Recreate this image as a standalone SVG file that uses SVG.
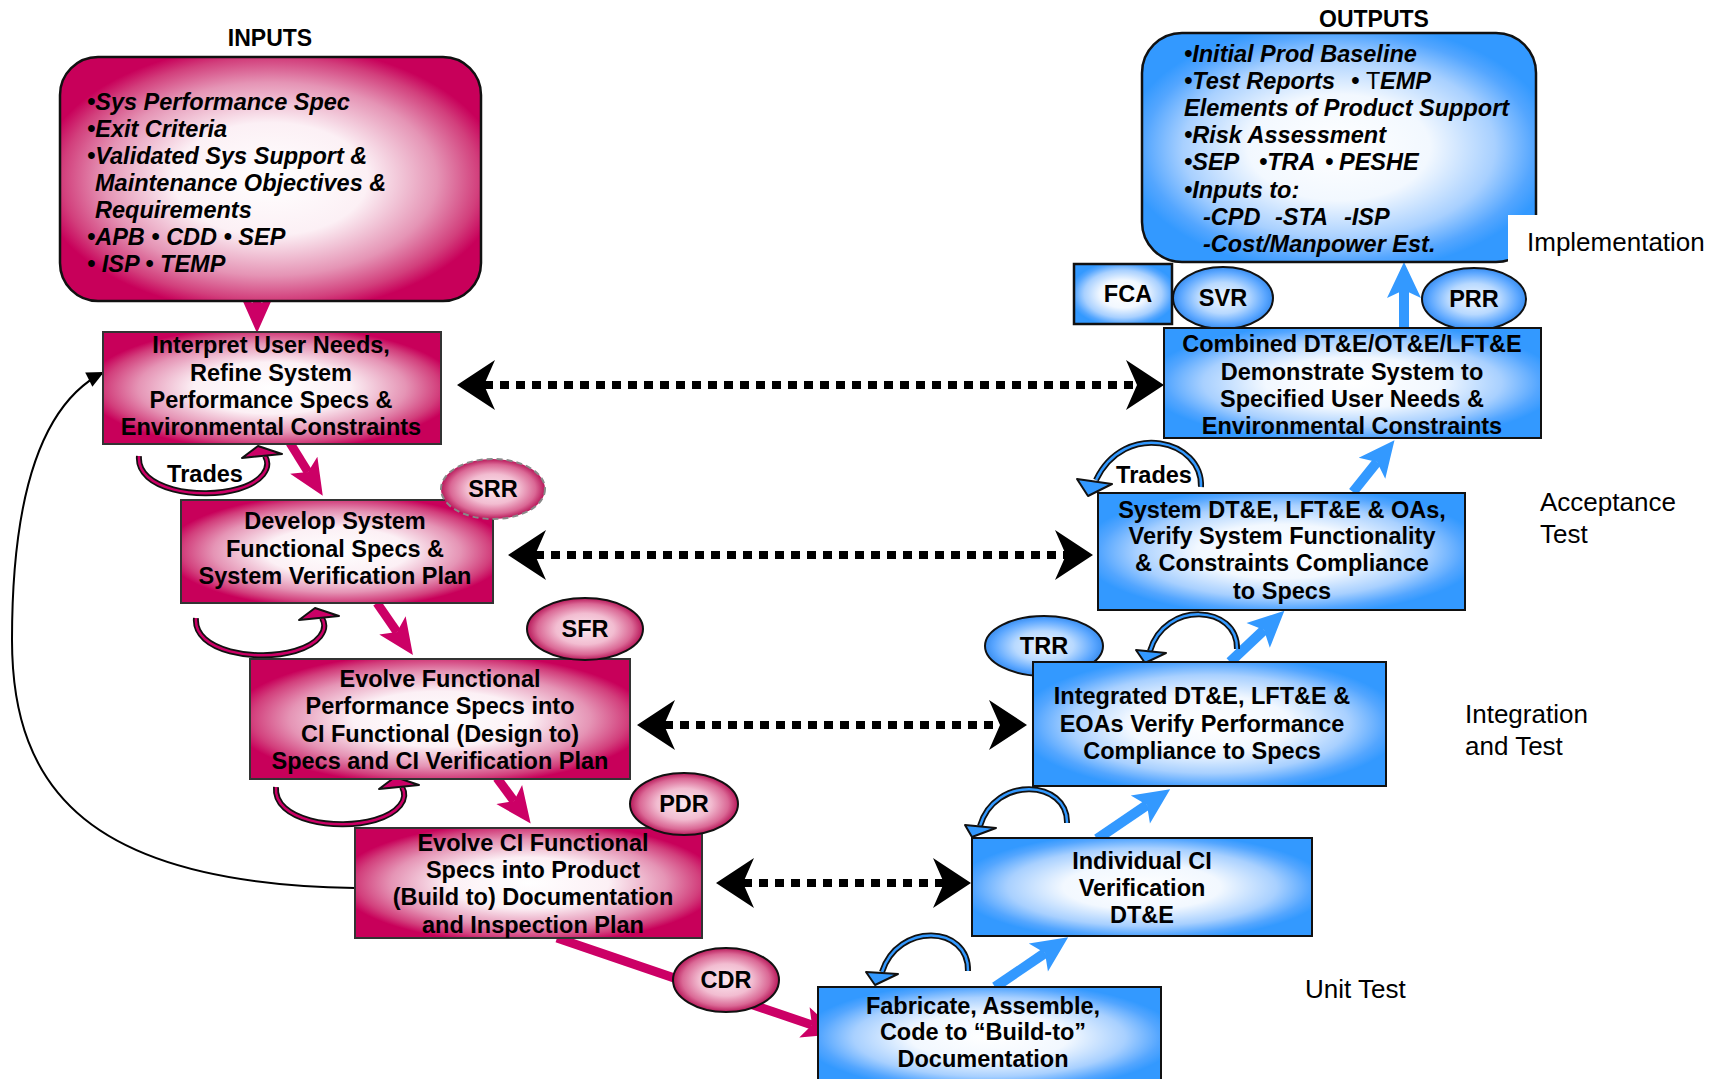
<svg xmlns="http://www.w3.org/2000/svg" width="1714" height="1079" viewBox="0 0 1714 1079">
<defs>
<style>
.nt{font-family:"Liberation Sans",Arial,sans-serif;font-weight:bold;font-size:23.5px;text-anchor:middle;fill:#000}
.it{font-family:"Liberation Sans",Arial,sans-serif;font-weight:bold;font-style:italic;font-size:23.5px;fill:#000}
.lb{font-family:"Liberation Sans",Arial,sans-serif;font-size:26px;fill:#000}
.hd{font-family:"Liberation Sans",Arial,sans-serif;font-weight:bold;font-size:23px;text-anchor:middle;fill:#000}
.pbox{fill:url(#gp);stroke:#333;stroke-width:2}
.bbox{fill:url(#gb);stroke:#111;stroke-width:2}
.pell{fill:url(#gpe);stroke:#111;stroke-width:2}
.bell{fill:url(#gbe);stroke:#111;stroke-width:2}
.dot{fill:none;stroke:#000;stroke-width:8;stroke-dasharray:9 7;marker-start:url(#hd);marker-end:url(#hd)}
.pa{fill:none;stroke:#CC0066;stroke-width:9;marker-end:url(#hp)}
.ba{fill:none;stroke:#3399FF;stroke-width:10;marker-end:url(#hb)}
.co{fill:none;stroke:#111;stroke-width:6}
.cp{fill:none;stroke:#CC0066;stroke-width:2.5}
.cb{fill:none;stroke:#3399FF;stroke-width:2.5}
</style>
<radialGradient id="gp" cx="0.5" cy="0.5" r="0.55">
<stop offset="0" stop-color="#FFFFFF"/><stop offset="0.42" stop-color="#FCF0F5"/><stop offset="0.72" stop-color="#E594B5"/><stop offset="0.9" stop-color="#D23F7C"/><stop offset="1" stop-color="#C8005A"/>
</radialGradient>
<radialGradient id="gb" cx="0.5" cy="0.5" r="0.55">
<stop offset="0" stop-color="#FFFFFF"/><stop offset="0.42" stop-color="#F2F8FF"/><stop offset="0.72" stop-color="#A8D0FF"/><stop offset="0.9" stop-color="#54A6FF"/><stop offset="1" stop-color="#3399FF"/>
</radialGradient>
<radialGradient id="gpe" cx="0.5" cy="0.5" r="0.5">
<stop offset="0" stop-color="#FBE8EF"/><stop offset="0.5" stop-color="#F2BDD1"/><stop offset="0.82" stop-color="#DA6895"/><stop offset="1" stop-color="#B8185A"/>
</radialGradient>
<radialGradient id="gbe" cx="0.5" cy="0.5" r="0.5">
<stop offset="0" stop-color="#F2F8FF"/><stop offset="0.5" stop-color="#B8D9FF"/><stop offset="0.85" stop-color="#5AA6FF"/><stop offset="1" stop-color="#3A8EF0"/>
</radialGradient>
<marker id="hd" viewBox="-12 -26 40 52" refX="0" refY="0" markerWidth="40" markerHeight="52" markerUnits="userSpaceOnUse" orient="auto-start-reverse">
<path d="M27,0 L-11,-25 L0,0 L-11,25 Z" fill="#000"/>
</marker>
<marker id="hp" viewBox="-10 -18 40 36" refX="0" refY="0" markerWidth="40" markerHeight="36" markerUnits="userSpaceOnUse" orient="auto">
<path d="M28,0 L-8,-16 L0,0 L-8,16 Z" fill="#CC0066"/>
</marker>
<marker id="hb" viewBox="-10 -18 40 36" refX="0" refY="0" markerWidth="40" markerHeight="36" markerUnits="userSpaceOnUse" orient="auto">
<path d="M28,0 L-8,-17 L0,0 L-8,17 Z" fill="#3399FF"/>
</marker>
<marker id="hk" viewBox="-18 -9 20 18" refX="0" refY="0" markerWidth="20" markerHeight="18" markerUnits="userSpaceOnUse" orient="auto">
<path d="M0,0 L-17,-8 L-17,8 Z" fill="#000"/>
</marker>
</defs>
<rect width="1714" height="1079" fill="#fff"/>

<g id="connectors">
<line class="pa" x1="257" y1="277" x2="257" y2="305"/>
<line class="pa" x1="290" y1="443" x2="308" y2="472"/>
<line class="pa" x1="377" y1="603" x2="397" y2="632"/>
<line class="pa" x1="497" y1="778" x2="514" y2="801"/>
<line class="pa" x1="557" y1="938" x2="812" y2="1025"/>
<line class="ba" x1="995" y1="987" x2="1045" y2="953"/>
<line class="ba" x1="1097" y1="839" x2="1147" y2="805"/>
<line class="ba" x1="1230" y1="662" x2="1264" y2="630"/>
<line class="ba" x1="1353" y1="492" x2="1377" y2="462"/>
<line class="ba" x1="1404" y1="328" x2="1404" y2="290"/>
<line class="dot" x1="484" y1="385" x2="1137" y2="385"/>
<line class="dot" x1="535" y1="555" x2="1066" y2="555"/>
<line class="dot" x1="664" y1="725" x2="1000" y2="725"/>
<line class="dot" x1="743" y1="883" x2="944" y2="883"/>
<path d="M355,888 C90,884 12,790 12,640 C12,480 48,400 104,372" fill="none" stroke="#000" stroke-width="2" marker-end="url(#hk)"/>
<g id="tr1">
<path class="co" d="M139,456 C136,490 200,500 238,489 C262,482 272,468 265,456"/>
<path class="cp" d="M139,456 C136,490 200,500 238,489 C262,482 272,468 265,456"/>
<polygon points="242,458 258,446 282,454" fill="#CC0066" stroke="#111" stroke-width="2" stroke-linejoin="round"/>
</g>
<g id="tr2" transform="translate(57,162)">
<path class="co" d="M139,456 C136,490 200,500 238,489 C262,482 272,468 265,456"/>
<path class="cp" d="M139,456 C136,490 200,500 238,489 C262,482 272,468 265,456"/>
<polygon points="242,458 258,446 282,454" fill="#CC0066" stroke="#111" stroke-width="2" stroke-linejoin="round"/>
</g>
<g id="tr3" transform="translate(137,331)">
<path class="co" d="M139,456 C136,490 200,500 238,489 C262,482 272,468 265,456"/>
<path class="cp" d="M139,456 C136,490 200,500 238,489 C262,482 272,468 265,456"/>
<polygon points="242,458 258,446 282,454" fill="#CC0066" stroke="#111" stroke-width="2" stroke-linejoin="round"/>
</g>
<path class="co" d="M1201,487 C1203,440 1125,420 1096,480"/>
<path class="cb" d="M1201,487 C1203,440 1125,420 1096,480"/>
<polygon points="1088,496 1077,479 1112,484" fill="#3399FF" stroke="#111" stroke-width="2" stroke-linejoin="round"/>
<path class="co" d="M1237,649 C1238,605 1165,600 1150,651"/>
<path class="cb" d="M1237,649 C1238,605 1165,600 1150,651"/>
<polygon points="1145,663 1136,650 1166,653" fill="#3399FF" stroke="#111" stroke-width="2" stroke-linejoin="round"/>
<path class="co" d="M1067,823 C1068,780 995,775 980,826"/>
<path class="cb" d="M1067,823 C1068,780 995,775 980,826"/>
<polygon points="972,837 965,825 996,828" fill="#3399FF" stroke="#111" stroke-width="2" stroke-linejoin="round"/>
<path class="co" d="M968,971 C969,925 898,922 882,972"/>
<path class="cb" d="M968,971 C969,925 898,922 882,972"/>
<polygon points="875,985 866,972 898,974" fill="#3399FF" stroke="#111" stroke-width="2" stroke-linejoin="round"/>
</g>

<g id="inputs">
<text class="hd" x="270" y="46">INPUTS</text>
<rect x="60" y="57" width="421" height="244" rx="38" fill="url(#gp)" stroke="#111" stroke-width="2.5"/>
<text class="it" xml:space="preserve"><tspan x="87" y="110">•Sys Performance Spec</tspan><tspan x="87" y="137">•Exit Criteria</tspan><tspan x="87" y="164">•Validated Sys Support &amp;</tspan><tspan x="95" y="191">Maintenance Objectives &amp;</tspan><tspan x="95" y="218">Requirements</tspan><tspan x="87" y="245">•APB • CDD • SEP</tspan><tspan x="87" y="272">• ISP • TEMP</tspan></text>
</g>

<g id="box1">
<rect class="pbox" x="103" y="332" width="338" height="112"/>
<text class="nt"><tspan x="271" y="353">Interpret User Needs,</tspan><tspan x="271" y="381">Refine System</tspan><tspan x="271" y="408">Performance Specs &amp;</tspan><tspan x="271" y="435">Environmental Constraints</tspan></text>
</g>
<text class="nt" x="205" y="482">Trades</text>

<g id="box2">
<rect class="pbox" x="181" y="500" width="312" height="103"/>
<text class="nt"><tspan x="335" y="529">Develop System</tspan><tspan x="335" y="557">Functional Specs &amp;</tspan><tspan x="335" y="584">System Verification Plan</tspan></text>
</g>
<g id="srr">
<ellipse cx="493" cy="489" rx="52" ry="30" fill="url(#gpe)" stroke="#888" stroke-width="2" stroke-dasharray="6 4"/>
<text class="nt" x="493" y="497">SRR</text>
</g>

<g id="box3">
<rect class="pbox" x="250" y="659" width="380" height="120"/>
<text class="nt"><tspan x="440" y="687">Evolve Functional</tspan><tspan x="440" y="714">Performance Specs into</tspan><tspan x="440" y="742">CI Functional (Design to)</tspan><tspan x="440" y="769">Specs and CI Verification Plan</tspan></text>
</g>
<g id="sfr">
<ellipse class="pell" cx="585" cy="629" rx="58" ry="31"/>
<text class="nt" x="585" y="637">SFR</text>
</g>

<g id="box4">
<rect class="pbox" x="355" y="828" width="347" height="110"/>
<text class="nt"><tspan x="533" y="851">Evolve CI Functional</tspan><tspan x="533" y="878">Specs into Product</tspan><tspan x="533" y="905">(Build to) Documentation</tspan><tspan x="533" y="933">and Inspection Plan</tspan></text>
</g>
<g id="pdr">
<ellipse class="pell" cx="684" cy="804" rx="54" ry="31"/>
<text class="nt" x="684" y="812">PDR</text>
</g>
<g id="cdr">
<ellipse class="pell" cx="726" cy="980" rx="53" ry="32"/>
<text class="nt" x="726" y="988">CDR</text>
</g>

<g id="outputs">
<text class="hd" x="1374" y="27">OUTPUTS</text>
<rect x="1142" y="33" width="394" height="229" rx="40" fill="url(#gb)" stroke="#111" stroke-width="2.5"/>
<text class="it" xml:space="preserve"><tspan x="1184" y="62">•Initial Prod Baseline</tspan><tspan x="1184" y="89">•Test Reports</tspan><tspan x="1351" y="89">• </tspan><tspan x="1366" y="89" font-style="normal" font-weight="normal">T</tspan><tspan x="1380" y="89">EMP</tspan><tspan x="1184" y="116">Elements of Product Support</tspan><tspan x="1184" y="143">•Risk Assessment</tspan><tspan x="1184" y="170">•SEP</tspan><tspan x="1259" y="170">•TRA</tspan><tspan x="1325" y="170">•</tspan><tspan x="1339" y="170">PESHE</tspan><tspan x="1184" y="198">•Inputs to:</tspan><tspan x="1203" y="225">-CPD</tspan><tspan x="1275" y="225">-STA</tspan><tspan x="1344" y="225">-ISP</tspan><tspan x="1203" y="252">-Cost/Manpower Est.</tspan></text>
</g>

<g id="fca">
<rect x="1074" y="264" width="98" height="60" fill="url(#gb)" stroke="#111" stroke-width="2.5"/>
<text class="nt" x="1128" y="302">FCA</text>
</g>
<g id="svr">
<ellipse class="bell" cx="1223" cy="298" rx="50" ry="31"/>
<text class="nt" x="1223" y="306">SVR</text>
</g>
<g id="prr">
<ellipse class="bell" cx="1474" cy="299" rx="52" ry="31"/>
<text class="nt" x="1474" y="307">PRR</text>
</g>

<g id="boxR1">
<rect class="bbox" x="1164" y="328" width="377" height="110"/>
<text class="nt"><tspan x="1352" y="352">Combined DT&amp;E/OT&amp;E/LFT&amp;E</tspan><tspan x="1352" y="380">Demonstrate System to</tspan><tspan x="1352" y="407">Specified User Needs &amp;</tspan><tspan x="1352" y="434">Environmental Constraints</tspan></text>
</g>
<text class="nt" x="1154" y="483">Trades</text>

<g id="boxR2">
<rect class="bbox" x="1098" y="493" width="367" height="117"/>
<text class="nt"><tspan x="1282" y="518">System DT&amp;E, LFT&amp;E &amp; OAs,</tspan><tspan x="1282" y="544">Verify System Functionality</tspan><tspan x="1282" y="571">&amp; Constraints Compliance</tspan><tspan x="1282" y="599">to Specs</tspan></text>
</g>

<g id="trr">
<ellipse class="bell" cx="1044" cy="646" rx="59" ry="30"/>
<text class="nt" x="1044" y="654">TRR</text>
</g>
<g id="boxR3">
<rect class="bbox" x="1033" y="662" width="353" height="124"/>
<text class="nt"><tspan x="1202" y="704">Integrated DT&amp;E, LFT&amp;E &amp;</tspan><tspan x="1202" y="732">EOAs Verify Performance</tspan><tspan x="1202" y="759">Compliance to Specs</tspan></text>
</g>

<g id="boxR4">
<rect class="bbox" x="972" y="838" width="340" height="98"/>
<text class="nt"><tspan x="1142" y="869">Individual CI</tspan><tspan x="1142" y="896">Verification</tspan><tspan x="1142" y="923">DT&amp;E</tspan></text>
</g>

<g id="boxR5">
<rect class="bbox" x="818" y="987" width="343" height="100"/>
<text class="nt"><tspan x="983" y="1014">Fabricate, Assemble,</tspan><tspan x="983" y="1040">Code to “Build-to”</tspan><tspan x="983" y="1067">Documentation</tspan></text>
</g>

<g id="labels">
<rect x="1508" y="215" width="206" height="50" fill="#fff"/>
<text class="lb" x="1527" y="251">Implementation</text>
<text class="lb"><tspan x="1540" y="511">Acceptance</tspan><tspan x="1540" y="543">Test</tspan></text>
<text class="lb"><tspan x="1465" y="723">Integration</tspan><tspan x="1465" y="755">and Test</tspan></text>
<text class="lb" x="1305" y="998">Unit Test</text>
</g>
</svg>
